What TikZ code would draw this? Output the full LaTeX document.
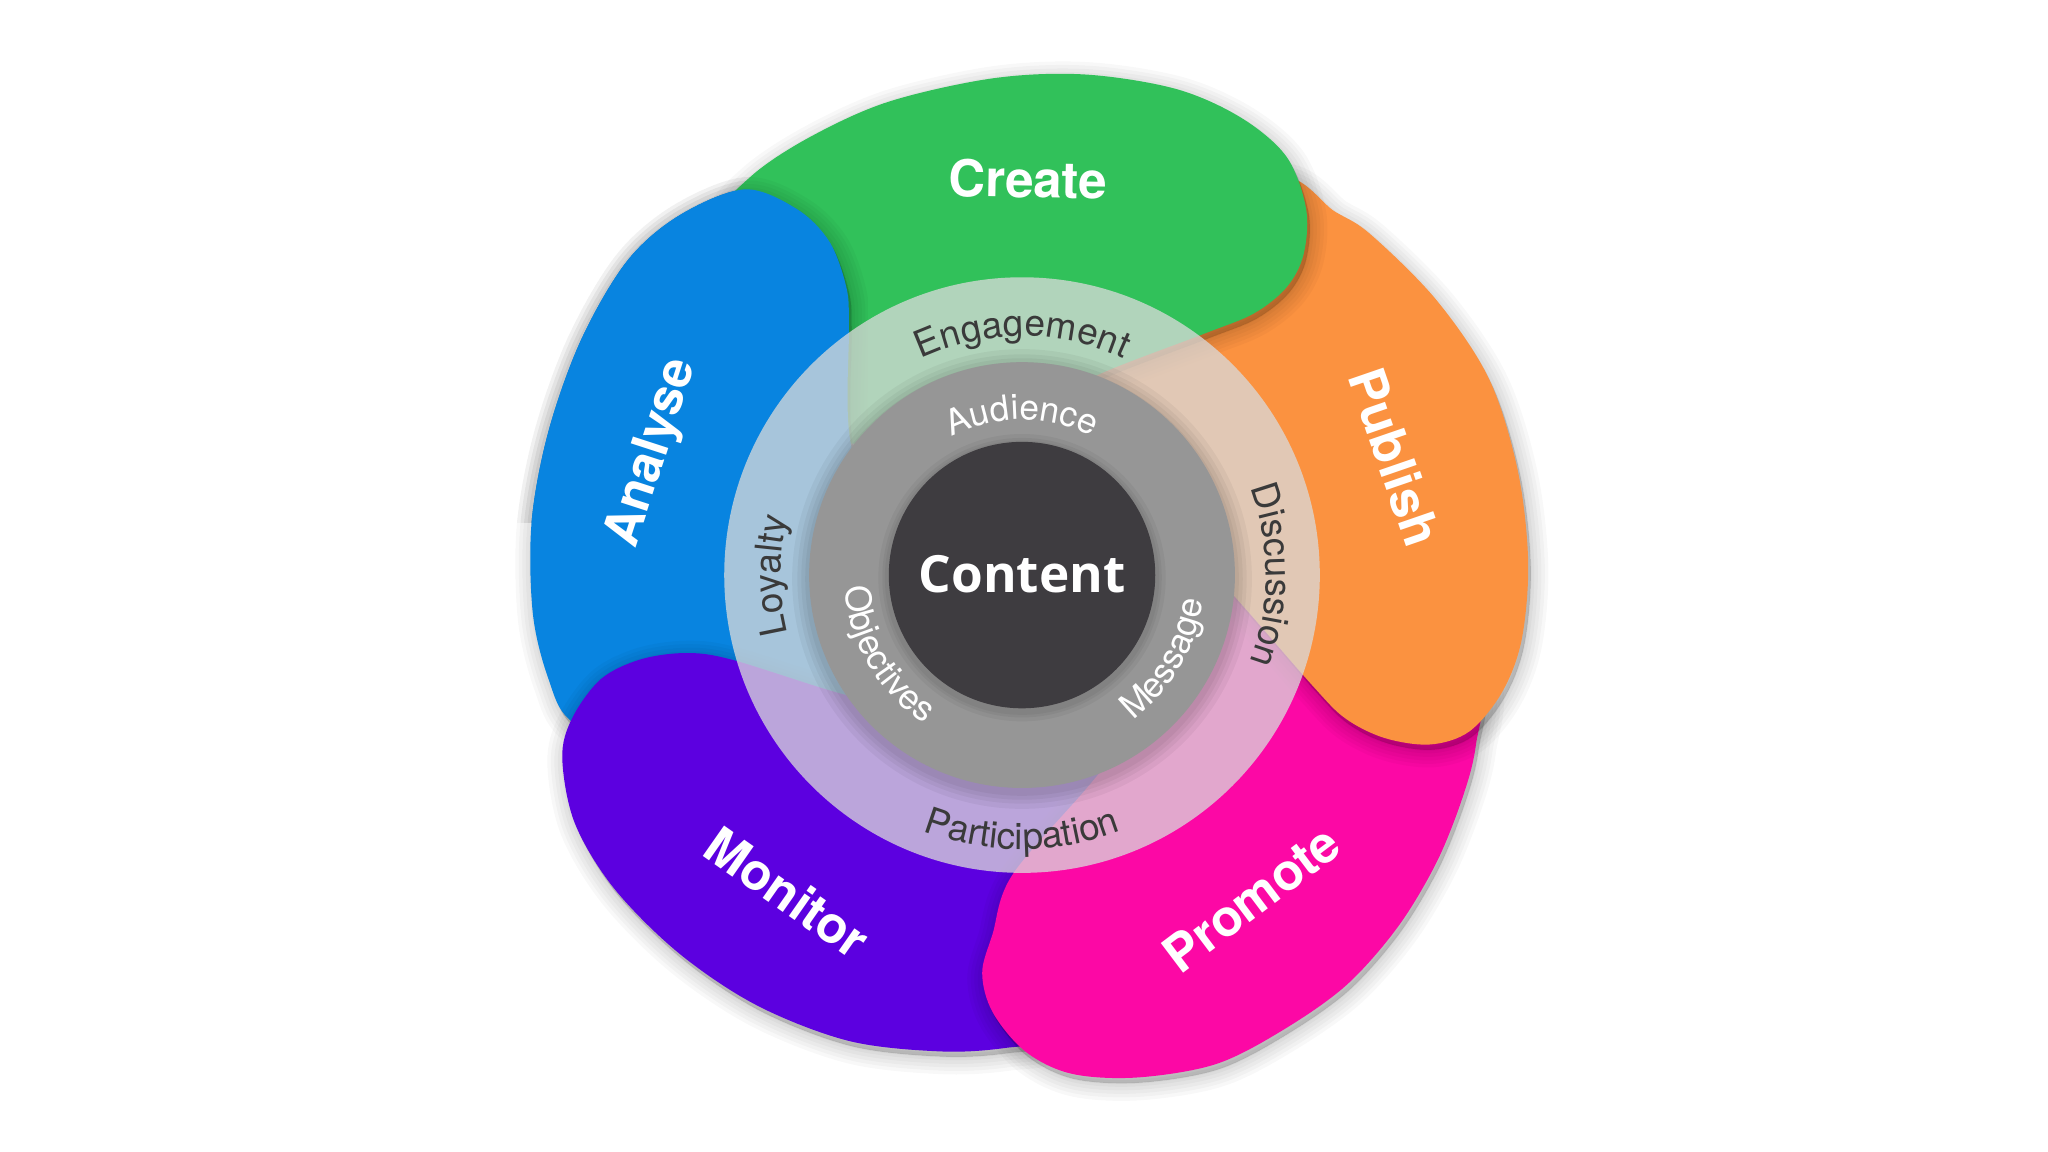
\documentclass[tikz,border=0pt]{standalone}
\usepackage{fontspec}
\setsansfont{TeX Gyre Heros}
\newfontfamily\contentfont{Open Sans}
\usetikzlibrary{decorations.text}

\definecolor{cgreen}{RGB}{49,193,90}
\definecolor{corange}{RGB}{251,146,64}
\definecolor{cpink}{RGB}{252,8,165}
\definecolor{cpurple}{RGB}{92,0,224}
\definecolor{cblue}{RGB}{8,132,224}
\definecolor{cring}{RGB}{218,218,218}
\definecolor{cgray}{RGB}{150,150,150}
\definecolor{cdark}{RGB}{62,60,64}
\definecolor{ctxt}{RGB}{58,58,58}

\newcommand\PetGreen{plot[smooth cycle, tension=0.55] coordinates {
 (-235,270) (-207.5,305.3) (-162.5,335.3) (-102.5,362.3) (-22.5,380.3) (47.5,383.3)
 (117.5,372.3) (167.5,350.3) (202.5,320.3) (217.5,280.3) (215.5,245.3) (202.5,220.3)
 (177.5,200.3) (140,185) (62.5,155.3) (0,125) (-120,100) (-200,130) (-240,200)}}
\newcommand\PetOrange{plot[smooth cycle, tension=0.55] coordinates {
 (190,305) (240,278) (267.5,260.3) (317.5,210.3) (357.5,150.3) (379.5,80.3) (387.5,10.3)
 (382.5,-49.7) (367.5,-89.7) (342.5,-119.7) (312.5,-129.7) (277.5,-124.7) (247.5,-109.7)
 (222.5,-84.7) (167.5,-21.7) (120,30) (40,90) (0,150) (80,240)}}
\newcommand\PetPink{plot[smooth cycle, tension=0.55] coordinates {
 (350,-75) (347.5,-130) (337.5,-169.7) (317.5,-219.7) (287.5,-269.7) (247.5,-314.7)
 (197.5,-349.7) (147.5,-374.7) (87.5,-384.7) (37.5,-381.7) (2.5,-364.7) (-22.5,-334.7)
 (-30.5,-304.7) (-22.5,-274.7) (-7.5,-229.7) (52.5,-159.7) (100,-100) (140,-30)
 (200,-5) (290,-25)}}
\newcommand\PetPurple{plot[smooth cycle, tension=0.55] coordinates {
 (110,-200) (70,-300) (30,-352) (-12.5,-362) (-62.5,-364.7) (-132.5,-356.7)
 (-202.5,-329.7) (-262.5,-289.7) (-312.5,-239.7) (-342.5,-189.7) (-352,-140)
 (-344.5,-109.7) (-322.5,-79.7) (-292.5,-64.7) (-257.5,-59.7) (-222.5,-64.7)
 (-142.5,-89.7) (-82.5,-104.7) (-22.5,-119.7) (40,-125)}}
\newcommand\PetBlue{plot[smooth cycle, tension=0.55] coordinates {
 (-200,-135) (-290,-140) (-345,-112) (-362.5,-79.7) (-374.5,-29.7) (-375.5,40.3)
 (-362.5,110.3) (-337.5,180.3) (-302.5,240.3) (-262.5,275.3) (-212.5,295.3)
 (-172.5,280.3) (-147.5,255.3) (-134.5,220.3) (-132.5,190.3) (-132.5,110.3)
 (-115,20) (-120,-90)}}

\tikzset{
  petlabel/.style={text=white, font=\sffamily\bfseries\fontsize{14.5}{17}\selectfont},
  softshadow/.style={fill=black, draw=black, opacity=0.028, shift={(2,-4)}},
}
\newcommand\ShadowOf[1]{%
  \foreach \lw in {10pt,8pt,6pt,4pt,2pt,0.5pt}{\path[softshadow, line width=\lw] #1;}}
\newcommand\RingFont{\sffamily\fontsize{10.5}{12}\selectfont}
\newcommand\CoreFont{\sffamily\fontsize{10}{12}\selectfont}

\begin{document}
\begin{tikzpicture}[x=0.01306cm, y=0.01306cm]
\path[fill=white, use as bounding box] (-782.5,-441.7) rectangle (785.5,440.3);

% petals (cyclic overlap: blue is redrawn on top at its upper end)
\ShadowOf{\PetBlue}
\fill[cblue] \PetBlue;
\ShadowOf{\PetPurple}
\fill[cpurple] \PetPurple;
\ShadowOf{\PetPink}
\fill[cpink] \PetPink;
\ShadowOf{\PetOrange}
\fill[corange] \PetOrange;
\ShadowOf{\PetGreen}
\fill[cgreen] \PetGreen;
\begin{scope}
  \clip (-420,40) rectangle (-118,420);
  \ShadowOf{\PetBlue}
  \fill[cblue] \PetBlue;
\end{scope}

% rings
\fill[cring, opacity=0.76] (0,0) circle[radius=228];
\foreach \rr in {176,172,169,166}{\fill[black, opacity=0.045] (0,-3) circle[radius=\rr];}
\fill[cgray] (0,0) circle[radius=163];
\foreach \rr in {110,107,105}{\fill[black, opacity=0.045] (0,-2) circle[radius=\rr];}
\node[circle, fill=cdark, minimum size=204*0.01306cm, inner sep=0pt] (core) at (0,0) {};
\node[text=white, font=\contentfont\bfseries\fontsize{14.6}{18}\selectfont] (content) at (0,1) {Content};

% petal labels
\node[petlabel, rotate=-1] (create) at (4.5,303.3) {Create};
\node[petlabel, rotate=-71] (publish) at (285.5,90.3) {Publish};
\node[petlabel, rotate=37] (promote) at (175.5,-247.7) {Promote};
\node[petlabel, rotate=-35] (monitor) at (-179.5,-242.7) {Monitor};
\node[petlabel, rotate=72] (analyse) at (-282.5,93.3) {Analyse};

% light ring labels
\path[decorate, decoration={text along path, text align=center, text color=ctxt,
  text={|\RingFont|Engagement}}] (150:183) arc[start angle=150, end angle=30, radius=183];
\path[decorate, decoration={text along path, text align=center, text color=ctxt,
  text={|\RingFont|Discussion}}] (60:187) arc[start angle=60, end angle=-60, radius=187];
\path[decorate, decoration={text along path, text align=center, text color=ctxt,
  text={|\RingFont|Loyalty}}] (240:185) arc[start angle=240, end angle=120, radius=185];
\path[decorate, decoration={text along path, text align=center, text color=ctxt,
  text={|\RingFont|Participation}}] (210:210) arc[start angle=210, end angle=330, radius=210];

% gray ring labels
\path[decorate, decoration={text along path, text align=center, text color=white,
  text={|\CoreFont|Audience}}] (150:119) arc[start angle=150, end angle=30, radius=119];
\path[decorate, decoration={text along path, text align=center, text color=white,
  text={|\CoreFont|Message}}] (-90.3:140) arc[start angle=-90.3, end angle=29.7, radius=140];
\path[decorate, decoration={text along path, text align=center, text color=white,
  text={|\CoreFont|Objectives}}] (150.3:136) arc[start angle=150.3, end angle=270.3, radius=136];
\end{tikzpicture}
\end{document}
